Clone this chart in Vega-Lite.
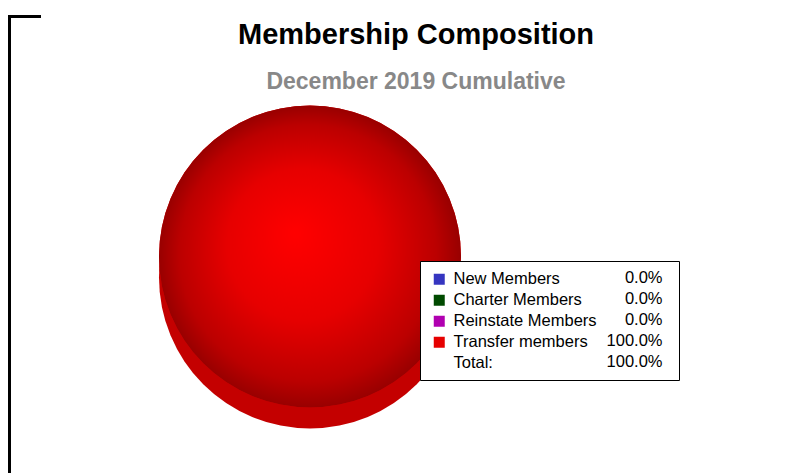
{
  "$schema": "https://vega.github.io/schema/vega-lite/v6.json",
  "width": 792,
  "height": 457,
  "autosize": "none",
  "padding": {"left": 9, "top": 16, "right": 0, "bottom": 0},
  "background": "white",
  "datasets": {
    "members": [
      {"category": "New Members", "share": 0},
      {"category": "Charter Members", "share": 0},
      {"category": "Reinstate Members", "share": 0},
      {"category": "Transfer members", "share": 100},
      {"category": "Total:", "share": 100}
    ]
  },
  "data": {"name": "members"},
  "title": {
    "text": "Membership Composition",
    "subtitle": "December 2019 Cumulative",
    "anchor": "middle",
    "font": "Liberation Sans",
    "fontSize": 29,
    "fontWeight": "bold",
    "color": "black",
    "subtitleFont": "Liberation Sans",
    "subtitleFontSize": 23,
    "subtitleFontWeight": "bold",
    "subtitleColor": "#888888",
    "subtitlePadding": 21,
    "offset": -78,
    "dx": 11
  },
  "config": {
    "view": {"stroke": null},
    "font": "Liberation Sans"
  },
  "layer": [
    {
      "mark": {"type": "point", "opacity": 0},
      "encoding": {
        "x": {
          "datum": 0,
          "type": "quantitative",
          "scale": {"domain": [0, 1], "range": [0, 30]},
          "axis": {"orient": "top", "ticks": false, "labels": false, "title": null, "grid": false,
                   "domainColor": "black", "domainWidth": 3, "domainCap": "square"}
        },
        "y": {
          "datum": 0,
          "type": "quantitative",
          "scale": {"domain": [0, 1]},
          "axis": {"orient": "left", "ticks": false, "labels": false, "title": null, "grid": false,
                   "domainColor": "black", "domainWidth": 3, "domainCap": "square"}
        },
        "shape": {
          "field": "category",
          "type": "nominal",
          "sort": null,
          "legend": {
            "orient": "none",
            "legendX": 411,
            "legendY": 245,
            "title": "\u00a0",
            "titleOrient": "right",
            "titlePadding": 7,
            "titleFontSize": 16,
            "padding": 9,
            "strokeColor": "black",
            "fillColor": "white",
            "symbolOpacity": 0,
            "symbolSize": 121,
            "labelAlign": "right",
            "labelOffset": 217,
            "labelFont": "Liberation Sans",
            "labelFontSize": 16.5,
            "labelColor": "black",
            "labelLimit": 0,
            "rowPadding": 4,
            "zindex": 0,
            "labelExpr": "format(data('members')[indexof(pluck(data('members'), 'category'), datum.value)].share, '.1f') + '%'"
          }
        }
      }
    },
    {
      "transform": [{"filter": "datum.category != 'Total:'"}],
      "mark": {"type": "arc", "radius": 151, "xOffset": -95, "yOffset": 33, "fill": "#c40000"},
      "encoding": {
        "theta": {"field": "share", "type": "quantitative"}
      }
    },
    {
      "transform": [{"filter": "datum.category != 'Total:'"}],
      "mark": {"type": "arc", "radius": 151, "xOffset": -95, "yOffset": 12},
      "encoding": {
        "theta": {"field": "share", "type": "quantitative"},
        "fill": {
          "field": "category",
          "type": "nominal",
          "scale": {
            "domain": ["New Members", "Charter Members", "Reinstate Members", "Transfer members", "Total:"],
            "range": ["#3535c0", "#004a00", "#b000b0", "#e60000", "transparent"]
          },
          "legend": {
            "orient": "none",
            "legendX": 422,
            "legendY": 255,
            "title": null,
            "padding": 0,
            "symbolType": "square",
            "symbolSize": 121,
            "symbolStrokeWidth": 0,
            "symbolOpacity": 1,
            "labelOffset": 6,
            "labelFont": "Liberation Sans",
            "labelFontSize": 16.5,
            "labelColor": "black",
            "labelLimit": 0,
            "rowPadding": 4,
            "zindex": 1
          }
        }
      }
    },
    {
      "transform": [{"filter": "datum.category != 'Total:'"}],
      "mark": {
        "type": "arc",
        "radius": 151,
        "xOffset": -95,
        "yOffset": 12,
        "fill": {
          "gradient": "radial",
          "x1": 0.45, "y1": 0.42, "r1": 0,
          "x2": 0.5, "y2": 0.5, "r2": 0.5,
          "stops": [
            {"offset": 0, "color": "#ff0000"},
            {"offset": 0.5, "color": "#e60000"},
            {"offset": 0.85, "color": "#bb0000"},
            {"offset": 1, "color": "#980000"}
          ]
        }
      },
      "encoding": {
        "theta": {"field": "share", "type": "quantitative"}
      }
    }
  ]
}
